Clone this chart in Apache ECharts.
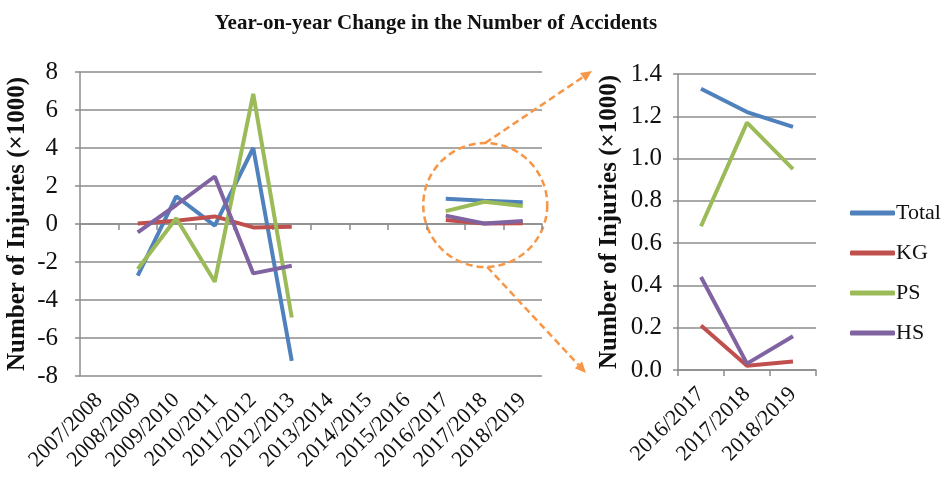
<!DOCTYPE html>
<html>
<head>
<meta charset="utf-8">
<script src="https://cdn.jsdelivr.net/npm/echarts@6/dist/echarts.min.js"></script>
<style>html,body{margin:0;padding:0;background:#fff}#c{width:948px;height:478px}</style>
</head>
<body>
<div id="c"></div>
<script>
var categories = ['2007/2008','2008/2009','2009/2010','2010/2011','2011/2012','2012/2013','2013/2014','2014/2015','2015/2016','2016/2017','2017/2018','2018/2019'];
var zoomCategories = ['2016/2017','2017/2018','2018/2019'];
var seriesNames = ['Total','KG','PS','HS'];
var totalValues = [null, -2.72, 1.46, -0.09, 4.0, -7.2, null, null, null, 1.33, 1.22, 1.15];
var kgValues    = [null, 0.03, 0.17, 0.4, -0.18, -0.15, null, null, null, 0.21, 0.02, 0.04];
var psValues    = [null, -2.37, 0.3, -3.04, 6.85, -4.92, null, null, null, 0.68, 1.17, 0.95];
var hsValues    = [null, -0.44, 1.0, 2.5, -2.6, -2.2, null, null, null, 0.44, 0.03, 0.16];
var mainTicks = {min: -8, max: 8, interval: 2};
var zoomTicks = {min: 0, max: 1.4, interval: 0.2};
var colors = ['#4F81BD', '#C0504D', '#9BBB59', '#8064A2'];
var allValues = [totalValues, kgValues, psValues, hsValues];

var font = 'Liberation Serif, Times New Roman, serif';
var gridLine = {lineStyle: {color: '#8c8c8c', width: 1.5}};
var axisLine = {show: true, lineStyle: {color: '#8c8c8c', width: 1.5}};

var series = [];
seriesNames.forEach(function (n, i) {
  series.push({name: n, type: 'line', xAxisIndex: 0, yAxisIndex: 0, data: allValues[i],
    showSymbol: false, symbol: 'none', connectNulls: false,
    lineStyle: {width: 4, color: colors[i]}, itemStyle: {color: colors[i]}, z: 3 + (i === 3 ? 1 : 0)});
});
seriesNames.forEach(function (n, i) {
  series.push({name: n, type: 'line', xAxisIndex: 1, yAxisIndex: 1, data: allValues[i].slice(-3),
    showSymbol: false, symbol: 'none',
    lineStyle: {width: 4, color: colors[i]}, itemStyle: {color: colors[i]}});
});

var chart = echarts.init(document.getElementById('c'));
chart.setOption({
  animation: false,
  color: colors,
  textStyle: {fontFamily: font},
  title: {text: 'Year-on-year Change in the Number of Accidents', left: 431, textAlign: 'center', top: 8,
    textStyle: {fontFamily: font, fontWeight: 'bold', fontSize: 21, color: '#111'}},
  legend: {orient: 'vertical', left: 845, top: 197, itemGap: 18, itemWidth: 45, itemHeight: 5, icon: 'roundRect',
    data: seriesNames, textStyle: {fontFamily: font, fontSize: 22, color: '#111', padding: [0, 0, 0, -4]}},
  grid: [
    {left: 80, top: 72, width: 462, height: 304},
    {left: 678, top: 74, width: 138, height: 296}
  ],
  xAxis: [
    {type: 'category', gridIndex: 0, data: categories, boundaryGap: true, axisLine: axisLine,
      axisTick: {show: true, length: 6, lineStyle: {color: '#8c8c8c', width: 1.5}},
      axisLabel: {rotate: 45, fontSize: 22, color: '#111', fontFamily: font, margin: 21, interval: 0}},
    {type: 'category', gridIndex: 1, data: zoomCategories, boundaryGap: true, axisLine: axisLine,
      axisTick: {show: true, length: 6, lineStyle: {color: '#8c8c8c', width: 1.5}},
      axisLabel: {rotate: 45, fontSize: 22, color: '#111', fontFamily: font, margin: 21, interval: 0}}
  ],
  yAxis: [
    {type: 'value', gridIndex: 0, min: mainTicks.min, max: mainTicks.max, interval: mainTicks.interval,
      axisLine: axisLine, axisTick: {show: true, length: 5, lineStyle: {color: '#8c8c8c', width: 1.5}},
      splitLine: gridLine,
      axisLabel: {fontSize: 25, color: '#111', fontFamily: font, margin: 22},
      name: 'Number of Injuries (×1000)', nameLocation: 'middle', nameGap: 50,
      nameTextStyle: {fontFamily: font, fontWeight: 'bold', fontSize: 25, color: '#111'}},
    {type: 'value', gridIndex: 1, min: zoomTicks.min, max: zoomTicks.max, interval: zoomTicks.interval,
      axisLine: axisLine, axisTick: {show: true, length: 5, lineStyle: {color: '#8c8c8c', width: 1.5}},
      splitLine: gridLine,
      axisLabel: {fontSize: 25, color: '#111', fontFamily: font, margin: 16, formatter: function (v) { return v.toFixed(1); }},
      name: 'Number of Injuries (×1000)', nameLocation: 'middle', nameGap: 56,
      nameTextStyle: {fontFamily: font, fontWeight: 'bold', fontSize: 25, color: '#111'}}
  ],
  series: series
});

// decorative zoom callout anchored on the main chart
var c = chart.convertToPixel({xAxisIndex: 0, yAxisIndex: 0}, ['2017/2018', 1.0]);
var r = 62;
var orange = '#F79646';
function arrow(x1, y1, x2, y2) {
  var ang = Math.atan2(y2 - y1, x2 - x1), L = 11, W = 5;
  var bx = x2 - L * Math.cos(ang), by = y2 - L * Math.sin(ang);
  var px = -Math.sin(ang) * W, py = Math.cos(ang) * W;
  return [
    {type: 'line', shape: {x1: x1, y1: y1, x2: bx, y2: by}, style: {stroke: orange, lineWidth: 2.5, lineDash: [7, 4]}},
    {type: 'polygon', shape: {points: [[x2, y2], [bx + px, by + py], [bx - px, by - py]]}, style: {fill: orange}}
  ];
}
var g = [{type: 'circle', shape: {cx: c[0] + 1, cy: c[1], r: r}, style: {fill: 'none', stroke: orange, lineWidth: 2.5, lineDash: [7, 4]}}];
g = g.concat(arrow(c[0] + 1, c[1] - r, 592, 71));
g = g.concat(arrow(c[0] + 3, c[1] + r, 586, 373));
chart.setOption({graphic: g});
</script>
</body>
</html>
